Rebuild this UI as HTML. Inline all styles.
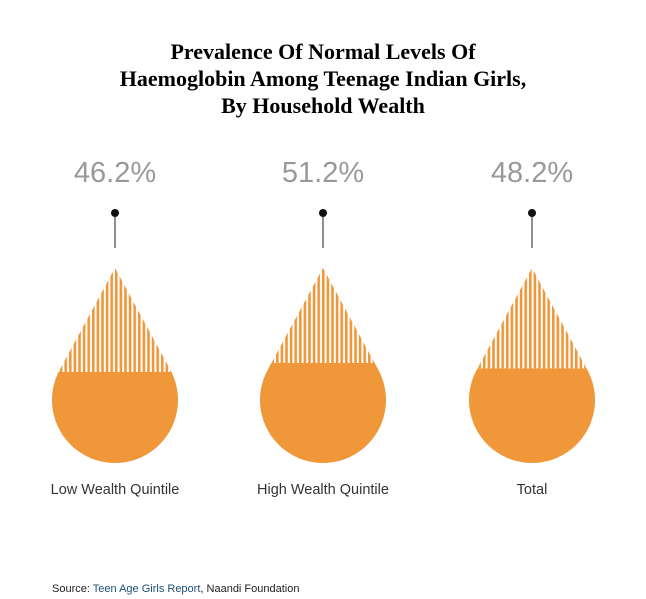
<!DOCTYPE html>
<html><head><meta charset="utf-8"><style>
body{margin:0;background:#fff;width:646px;height:599px;overflow:hidden;font-family:"Liberation Sans",sans-serif}
#title{position:absolute;left:0;width:646px;top:38px;text-align:center;font-family:"Liberation Serif",serif;font-weight:bold;font-size:22px;line-height:27px;color:#000}
#src{position:absolute;left:52px;top:583px;font-size:11px;color:#222}
#src span{color:#1f4e79}
svg{position:absolute;left:0;top:0}
</style></head><body>
<div id="title">Prevalence Of Normal Levels Of<br>Haemoglobin Among Teenage Indian Girls,<br>By Household Wealth</div>
<svg id="chart" width="646" height="599">
<defs><pattern id="hatch" patternUnits="userSpaceOnUse" width="4.6" height="10"><rect x="0" y="0" width="2.6" height="10" fill="#f0973a"/></pattern></defs>
</svg>
<div id="src">Source: <span>Teen Age Girls Report</span>, Naandi Foundation</div>
<script>
const categories=["Low Wealth Quintile","High Wealth Quintile","Total"];
const values=[46.2,51.2,48.2];
const centers=[115,323,532];
const svg=document.getElementById('chart');
const NS='http://www.w3.org/2000/svg';
function yLevel(v){return 372-1.8*(v-46.2);}
const tipY=268,cy=400,r=63;
function mk(t,a){const e=document.createElementNS(NS,t);for(const k in a)e.setAttribute(k,a[k]);svg.appendChild(e);return e;}
categories.forEach((c,i)=>{
 const cx=centers[i];
 const d=cy-tipY, s=Math.asin(r/d);
 const tl=Math.sqrt(d*d-r*r);
 const tx=tl*Math.sin(s), ty=tipY+tl*Math.cos(s);
 const path=`M${cx},${tipY} L${cx+tx},${ty} A${r},${r} 0 1 1 ${cx-tx},${ty} Z`;
 const cp=mk('clipPath',{id:'cp'+i});
 const p=document.createElementNS(NS,'path');p.setAttribute('d',path);cp.appendChild(p);
 const ly=yLevel(values[i]);
 const h=mk('rect',{x:cx-r,y:tipY,width:2*r,height:ly-tipY,fill:'url(#hatch)','clip-path':`url(#cp${i})`});
 
 
 const f=mk('rect',{x:cx-r,y:ly,width:2*r,height:cy+r-ly+1,fill:'#f0973a','clip-path':`url(#cp${i})`});
 
 
 const ln=mk('line',{x1:cx,y1:213,x2:cx,y2:248,stroke:'#555','stroke-width':1.3});
 
 
 const dot=mk('circle',{cx:cx,cy:213,r:4,fill:'#111'});
 
 
 const vt=mk('text',{x:cx,y:182,'text-anchor':'middle','font-size':29,fill:'#999','font-family':'Liberation Sans, sans-serif'});
 vt.textContent=values[i].toFixed(1)+'%';
 
 
 const lt=mk('text',{x:cx,y:494,'text-anchor':'middle','font-size':14.5,fill:'#333','font-family':'Liberation Sans, sans-serif'});
 lt.textContent=c;
 
 
});
</script>
</body></html>
